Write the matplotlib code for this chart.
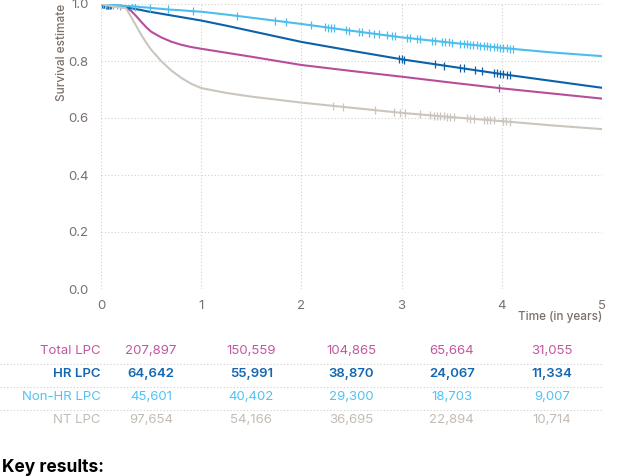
import numpy as np
import matplotlib
matplotlib.use("Agg")
import matplotlib.pyplot as plt

plt.rcParams['font.family'] = ['Inter', 'DejaVu Sans']

# ---- data ----
times = [0.0, 0.1, 0.25, 0.3, 0.35, 0.4, 0.45, 0.5, 0.6, 0.7, 0.8, 0.9, 1.0, 1.25, 1.5, 2.0, 2.5, 3.0, 3.5, 4.0, 4.5, 5.0]
surv_total = [1.0, 0.995, 0.987, 0.976, 0.958, 0.938, 0.919, 0.903, 0.883, 0.868, 0.857, 0.849, 0.843, 0.829, 0.815, 0.786, 0.765, 0.745, 0.724, 0.704, 0.686, 0.668]
surv_hr = [1.0, 0.996, 0.988, 0.985, 0.982, 0.979, 0.975, 0.972, 0.966, 0.960, 0.954, 0.948, 0.942, 0.924, 0.905, 0.867, 0.836, 0.806, 0.780, 0.754, 0.730, 0.706]
surv_nonhr = [1.0, 0.997, 0.993, 0.992, 0.991, 0.989, 0.988, 0.986, 0.983, 0.980, 0.978, 0.975, 0.973, 0.963, 0.952, 0.930, 0.906, 0.883, 0.864, 0.846, 0.830, 0.817]
surv_nt = [1.0, 0.993, 0.985, 0.955, 0.924, 0.893, 0.865, 0.840, 0.800, 0.767, 0.741, 0.720, 0.705, 0.688, 0.675, 0.654, 0.636, 0.618, 0.603, 0.589, 0.574, 0.561]

cens_total = [0.03, 0.06, 0.1, 3.97]
cens_hr = [0.01, 0.02, 0.03, 0.05, 0.07, 0.09, 2.97, 3.0, 3.02, 3.33, 3.42, 3.58, 3.62, 3.73, 3.80,
           3.92, 3.95, 3.98, 4.01, 4.05, 4.08]
cens_nonhr = [0.02, 0.05, 0.08, 0.12, 0.16, 0.19, 0.31, 0.34, 0.49, 0.67, 0.92, 1.36, 1.74, 1.85,
              2.10, 2.24, 2.27, 2.30, 2.33, 2.45, 2.48, 2.57, 2.60, 2.67, 2.72, 2.77, 2.85, 2.90, 2.93,
              3.05, 3.08, 3.15, 3.18, 3.30, 3.33, 3.40, 3.43, 3.47, 3.50, 3.58, 3.62, 3.65, 3.68, 3.71,
              3.75, 3.78, 3.82, 3.85, 3.88, 3.92, 3.95, 3.98, 4.01, 4.05, 4.08, 4.11]
cens_nt = [2.32, 2.42, 2.73, 2.92, 2.98, 3.03, 3.18, 3.28, 3.32, 3.35, 3.38, 3.42, 3.45, 3.48, 3.52,
           3.65, 3.68, 3.72, 3.82, 3.85, 3.88, 3.92, 4.01, 4.04, 4.08]

row_labels = ['Total LPC', 'HR LPC', 'Non-HR LPC', 'NT LPC']
at_risk = [
    ['207,897', '150,559', '104,865', '65,664', '31,055'],
    ['64,642', '55,991', '38,870', '24,067', '11,334'],
    ['45,601', '40,402', '29,300', '18,703', '9,007'],
    ['97,654', '54,166', '36,695', '22,894', '10,714'],
]
col_times = [0.5, 1.5, 2.5, 3.5, 4.5]
x_ticks = [0, 1, 2, 3, 4, 5]
y_ticks = [0.0, 0.2, 0.4, 0.6, 0.8, 1.0]

# ---- style ----
line_colors = ['#B84D9C', '#0C61A9', '#4CBEEE', '#CCC5BE']
text_colors = ['#C2579F', '#1467B0', '#52C2F4', '#C3BCB5']
weights = ['normal', 'semibold', 'normal', 'normal']
axis_text = '#7B706A'

W, H = 622, 476
fig = plt.figure(figsize=(W / 100, H / 100), dpi=100)
ax = fig.add_axes([101 / W, 1 - 289 / H, 501 / W, 285 / H])

series = [(surv_total, cens_total), (surv_hr, cens_hr), (surv_nonhr, cens_nonhr), (surv_nt, cens_nt)]
for idx in [3, 0, 1, 2]:
    s, c = series[idx]
    ax.plot(times, s, color=line_colors[idx], lw=1.5, zorder=3 + idx, solid_joinstyle='round')
    cy = np.interp(c, times, s)
    ax.plot(c, cy, ls='none', marker='|', ms=5.5, mew=0.9, color=line_colors[idx], zorder=3 + idx)

ax.set_xlim(0, 5)
ax.set_ylim(0, 1.0)
ax.set_xticks(x_ticks)
ax.set_yticks(y_ticks)
ax.set_xticklabels([str(v) for v in x_ticks])
ax.set_yticklabels([f'{v:.1f}' for v in y_ticks])
ax.tick_params(length=0, labelsize=9.5, labelcolor=axis_text)
ax.tick_params(axis='y', pad=9)
ax.tick_params(axis='x', pad=8)
ax.grid(True, ls=(0, (1, 2)), color='#CFCFCF', lw=0.8)
for sp in ax.spines.values():
    sp.set_visible(False)
ax.set_axisbelow(True)

fig.text(62 / W, 1 - 52 / H, 'Survival estimate', rotation=90, ha='center', va='center',
         fontsize=8.5, color=axis_text, fontweight='medium')
fig.text(602 / W, 1 - 317 / H, 'Time (in years)', ha='right', va='center',
         fontsize=8.5, color=axis_text, fontweight='medium')

# at-risk table
row_y = [351, 374, 397, 420]
sep_y = [364, 387, 410]
trans = matplotlib.transforms.blended_transform_factory(ax.transData, fig.transFigure)
for i, lab in enumerate(row_labels):
    yy = 1 - row_y[i] / H
    fig.text(101 / W, yy, lab, ha='right', va='center', fontsize=9.5,
             color=text_colors[i], fontweight=weights[i])
    for j, val in enumerate(at_risk[i]):
        fig.text(col_times[j], yy, val, transform=trans, ha='center', va='center',
                 fontsize=9.5, color=text_colors[i], fontweight=weights[i])
for sy in sep_y:
    fig.add_artist(plt.Line2D([0, 602 / W], [1 - sy / H, 1 - sy / H], transform=fig.transFigure,
                              ls=(0, (1, 2)), color='#CFCFCF', lw=0.8))

fig.text(2 / W, 1 - 467 / H, 'Key results:', ha='left', va='center', fontsize=12.5,
         fontweight='bold', color='#000000')

fig.savefig('out.png', dpi=100)
